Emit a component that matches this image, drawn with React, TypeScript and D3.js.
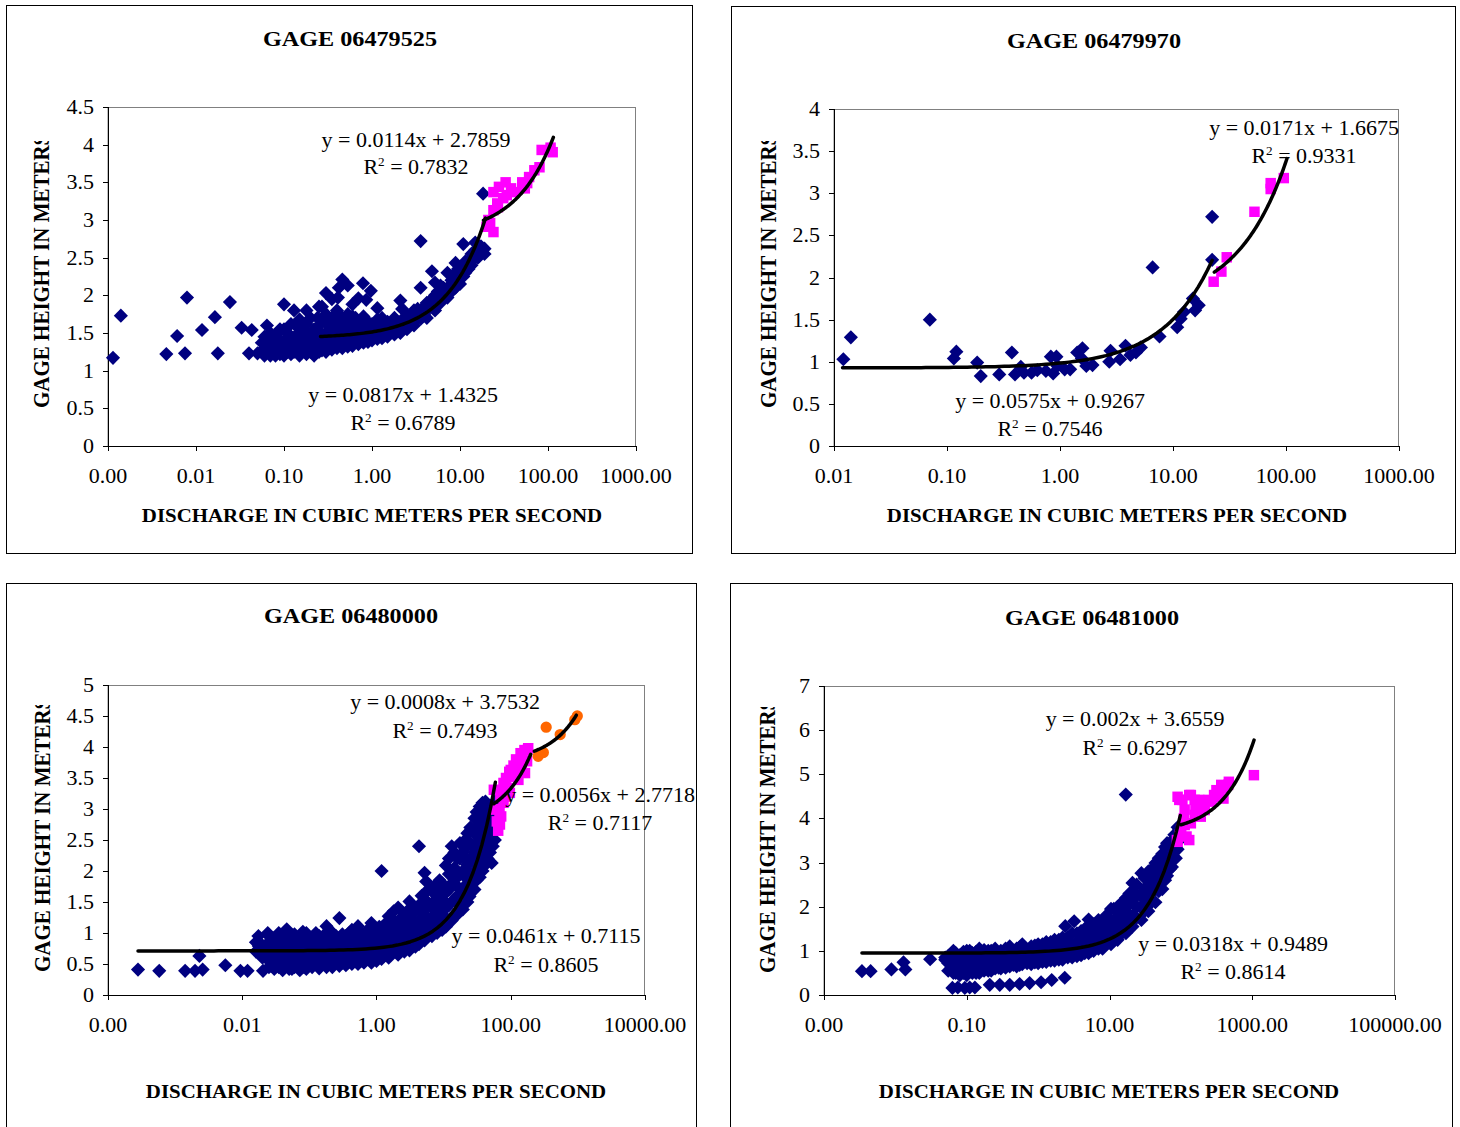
import React from "react";
import * as d3 from "d3";

type Pt = [number, number];
type Trend = { a: number; b: number; r2: number; from: number; to: number };

const titles = ["GAGE 06479525", "GAGE 06479970", "GAGE 06480000", "GAGE 06481000"];
const xAxisTitle = "DISCHARGE IN CUBIC METERS PER SECOND";
const yAxisTitle = "GAGE HEIGHT IN METERS";

const xTicks1 = [0.001, 0.01, 0.1, 1, 10, 100, 1000];
const xTicks2 = [0.01, 0.1, 1, 10, 100, 1000];
const xTicks3 = [0.0001, 0.01, 1, 100, 10000];
const xTicks4 = [0.001, 0.1, 10, 1000, 100000];
const yTicks1 = [0, 0.5, 1, 1.5, 2, 2.5, 3, 3.5, 4, 4.5];
const yTicks2 = [0, 0.5, 1, 1.5, 2, 2.5, 3, 3.5, 4];
const yTicks3 = [0, 0.5, 1, 1.5, 2, 2.5, 3, 3.5, 4, 4.5, 5];
const yTicks4 = [0, 1, 2, 3, 4, 5, 6, 7];

// ---------- Panel 1 (GAGE 06479525)
const blue1: Pt[] = [
  [0.00114, 1.17], [0.0014, 1.73], [0.0046, 1.22], [0.0061, 1.46], [0.0075, 1.23], [0.0079, 1.97],
  [0.0117, 1.54], [0.0164, 1.71], [0.0177, 1.23], [0.0243, 1.91], [0.033, 1.57], [0.04, 1.23],
  [0.043, 1.54], [0.05, 1.23], [0.056, 1.37], [0.064, 1.6],
  [0.06, 1.2], [0.06, 1.3], [0.06, 1.45],
  [0.07, 1.2], [0.07, 1.25], [0.07, 1.35], [0.07, 1.5],
  [0.08, 1.2], [0.08, 1.3], [0.08, 1.45],
  [0.09, 1.22], [0.09, 1.35], [0.09, 1.4], [0.09, 1.55],
  [0.1, 1.2], [0.1, 1.27], [0.1, 1.4], [0.1, 1.88], [0.1, 1.55],
  [0.12, 1.22], [0.12, 1.3], [0.12, 1.45], [0.12, 1.62],
  [0.13, 1.8], [0.13, 1.25], [0.13, 1.38],
  [0.15, 1.2], [0.15, 1.3], [0.15, 1.42], [0.15, 1.55], [0.15, 1.68],
  [0.18, 1.8], [0.18, 1.22], [0.18, 1.35], [0.18, 1.5], [0.18, 1.62],
  [0.2, 1.25], [0.2, 1.3], [0.2, 1.45], [0.2, 1.7],
  [0.22, 1.2], [0.22, 1.38], [0.22, 1.55],
  [0.25, 1.25], [0.25, 1.32], [0.25, 1.48], [0.25, 1.6], [0.25, 1.85],
  [0.27, 1.85], [0.27, 1.27], [0.27, 1.4],
  [0.3, 2.03], [0.3, 1.25], [0.3, 1.35], [0.3, 1.5], [0.3, 1.65], [0.3, 1.75],
  [0.35, 1.28], [0.35, 1.4], [0.35, 1.55], [0.35, 1.7], [0.35, 1.95],
  [0.4, 1.3], [0.4, 1.42], [0.4, 1.6], [0.4, 1.8], [0.41, 1.97], [0.42, 2.1],
  [0.46, 2.21], [0.46, 1.3], [0.46, 1.45], [0.46, 1.55], [0.46, 1.7],
  [0.53, 1.32], [0.53, 1.48], [0.53, 1.62], [0.53, 2.13], [0.53, 1.75],
  [0.6, 1.33], [0.6, 1.45], [0.6, 1.6], [0.6, 1.72], [0.6, 1.88],
  [0.7, 1.35], [0.7, 1.5], [0.7, 1.65], [0.7, 1.96],
  [0.79, 2.16], [0.8, 1.37], [0.8, 1.5], [0.8, 1.6], [0.8, 1.72],
  [0.86, 1.94], [0.9, 1.38], [0.9, 1.52], [0.9, 1.65],
  [0.97, 2.06], [1.0, 1.4], [1.0, 1.5], [1.0, 1.62],
  [1.15, 1.83], [1.15, 1.42], [1.15, 1.55], [1.15, 1.68],
  [1.3, 1.43], [1.3, 1.5], [1.3, 1.6], [1.3, 1.7],
  [1.5, 1.45], [1.5, 1.55], [1.5, 1.65],
  [1.8, 1.48], [1.8, 1.58], [1.8, 1.7],
  [2.1, 1.93], [2.1, 1.5], [2.1, 1.62], [2.2, 1.82],
  [2.5, 1.55], [2.5, 1.65], [2.5, 1.72],
  [3.0, 1.6], [3.0, 1.7], [3.0, 1.8],
  [3.57, 2.72], [3.57, 2.1], [3.6, 1.69], [3.6, 1.75],
  [4.2, 1.8], [4.2, 1.7], [4.2, 1.9],
  [4.8, 2.32], [4.8, 1.85], [4.8, 1.95],
  [5.2, 2.17], [5.2, 1.8], [5.2, 2.0],
  [6.0, 2.13], [6.0, 1.9], [6.0, 2.0],
  [7.2, 2.3], [7.2, 1.97], [7.2, 2.1],
  [8.9, 2.43], [8.9, 2.1], [8.9, 2.2], [8.9, 2.3],
  [10, 2.15], [10, 2.3],
  [10.9, 2.68], [10.9, 2.25], [10.9, 2.4],
  [12.5, 2.35], [12.5, 2.45],
  [14.9, 2.7], [14.9, 2.5], [14.9, 2.6],
  [17.3, 2.56], [17.3, 2.65], [18.3, 3.35], [19, 2.62], [19, 2.55],
  [0.065, 1.25], [0.065, 1.4], [0.085, 1.25], [0.085, 1.38], [0.085, 1.5],
  [0.11, 1.25], [0.11, 1.35], [0.11, 1.5], [0.14, 1.25], [0.14, 1.35], [0.14, 1.48], [0.14, 1.6],
  [0.165, 1.27], [0.165, 1.4], [0.165, 1.55], [0.24, 1.3], [0.24, 1.4], [0.24, 1.55], [0.24, 1.7],
  [0.32, 1.3], [0.32, 1.45], [0.32, 1.6], [0.38, 1.35], [0.38, 1.5], [0.38, 1.65],
  [0.5, 1.38], [0.5, 1.55], [0.5, 1.68], [0.65, 1.4], [0.65, 1.55], [0.65, 1.7], [0.75, 1.42], [0.75, 1.57],
  [1.2, 1.48], [1.2, 1.6], [1.6, 1.52], [1.6, 1.62], [2.3, 1.6], [2.3, 1.7], [2.8, 1.65], [2.8, 1.75],
  [3.3, 1.7], [3.3, 1.82], [3.9, 1.75], [3.9, 1.85], [5.6, 1.92], [5.6, 2.05], [6.5, 2.0], [6.5, 2.1],
  [8, 2.05], [8, 2.2], [9.5, 2.2], [9.5, 2.35], [11.5, 2.3], [11.5, 2.45], [13.5, 2.4], [13.5, 2.55],
  [16, 2.5], [16, 2.6],
];
const pink1: Pt[] = [
  [84.7, 3.93], [113, 3.9], [107, 3.96], [70, 3.66], [80, 3.7], [51, 3.5], [58, 3.49], [33, 3.5],
  [27.7, 3.44], [38, 3.42], [24, 3.37], [31, 3.29], [26.5, 3.22], [34, 3.33], [24, 3.13], [27, 3.17],
  [21, 3.0], [20, 2.91], [24, 2.84], [22, 2.96], [42, 3.37], [54.5, 3.42], [61, 3.57],
];
const trends1: Trend[] = [
  { a: 0.0817, b: 1.4325, r2: 0.6789, from: 0.26, to: 19.5 },
  { a: 0.0114, b: 2.7859, r2: 0.7832, from: 18.5, to: 115 },
];

// ---------- Panel 2 (GAGE 06479970)
const blue2: Pt[] = [
  [0.0121, 1.03], [0.0141, 1.29], [0.0705, 1.5], [0.115, 1.04], [0.121, 1.12], [0.185, 0.99],
  [0.199, 0.83], [0.29, 0.85], [0.375, 1.11], [0.4, 0.85], [0.45, 0.94], [0.48, 0.87], [0.56, 0.87],
  [0.63, 0.9], [0.75, 0.89], [0.83, 1.06], [0.87, 0.86], [0.93, 1.06], [0.95, 0.95], [1.1, 0.91],
  [1.23, 0.91], [1.42, 1.11], [1.58, 1.16], [1.56, 1.04], [1.71, 0.95], [1.94, 0.96], [2.73, 1.0],
  [2.8, 1.13], [3.4, 1.03], [3.8, 1.19], [4.2, 1.08], [4.7, 1.11], [5.2, 1.17], [6.6, 2.12],
  [7.6, 1.3], [10.9, 1.41], [11.7, 1.51], [12.5, 1.59], [15.0, 1.75], [15.7, 1.61], [16.9, 1.67],
  [22.2, 2.72], [22.2, 2.21],
];
const pink2: Pt[] = [
  [22.9, 1.95], [26.8, 2.07], [29.9, 2.24], [52.6, 2.78], [73.2, 3.12], [73.2, 3.05], [95.6, 3.18],
];
const trends2: Trend[] = [
  { a: 0.0575, b: 0.9267, r2: 0.7546, from: 0.0119, to: 22.2 },
  { a: 0.0171, b: 1.6675, r2: 0.9331, from: 23.2, to: 102 },
];

// ---------- Panel 3 (GAGE 06480000)
const blue3: Pt[] = [
  [0.00028, 0.41], [0.00058, 0.39], [0.00141, 0.39], [0.00198, 0.39], [0.0023, 0.63], [0.00257, 0.41],
  [0.0056, 0.48], [0.0094, 0.39], [0.012, 0.39], [0.0204, 0.39], [0.0174, 0.95], [0.0176, 0.79],
  [0.024, 1.0], [0.046, 1.06], [0.072, 0.95], [0.18, 1.11], [0.28, 1.24], [0.53, 1.11], [0.84, 1.16],
  [1.19, 2.0], [1.52, 1.27], [2.1, 1.41], [3.1, 1.51], [4.3, 2.4], [5.2, 1.97], [5.5, 1.83], [6.7, 1.67],
  [10.8, 2.09], [13.2, 2.4], [22.6, 2.61], [28.8, 2.85], [34.5, 3.04], [42, 3.12], [49, 2.8], [52, 2.13],
  [19.3, 1.38], [24.3, 1.59],
  [0.016, 0.85], [0.016, 0.7], [0.02, 0.8], [0.02, 0.6],
  [0.025, 0.45], [0.025, 0.55], [0.025, 0.7], [0.025, 0.85], [0.025, 0.95],
  [0.03, 0.42], [0.03, 0.5], [0.03, 0.65], [0.03, 0.8], [0.03, 0.92],
  [0.04, 0.4], [0.04, 0.55], [0.04, 0.7], [0.04, 0.85], [0.04, 0.95],
  [0.05, 0.42], [0.05, 0.5], [0.05, 0.62], [0.05, 0.75], [0.05, 0.9],
  [0.06, 0.45], [0.06, 0.58], [0.06, 0.7], [0.06, 0.85], [0.06, 0.98],
  [0.072, 0.4], [0.072, 0.5], [0.072, 0.65], [0.072, 0.8],
  [0.09, 0.42], [0.09, 0.55], [0.09, 0.7], [0.09, 0.85], [0.09, 1.0],
  [0.11, 0.45], [0.11, 0.6], [0.11, 0.75], [0.11, 0.9],
  [0.14, 0.43], [0.14, 0.55], [0.14, 0.68], [0.14, 0.82], [0.14, 0.95],
  [0.18, 0.45], [0.18, 0.6], [0.18, 0.75], [0.18, 0.9],
  [0.22, 0.45], [0.22, 0.55], [0.22, 0.7], [0.22, 0.85], [0.22, 1.0],
  [0.28, 0.47], [0.28, 0.6], [0.28, 0.72], [0.28, 0.88],
  [0.35, 0.48], [0.35, 0.62], [0.35, 0.78], [0.35, 0.95],
  [0.43, 0.5], [0.43, 0.63], [0.43, 0.75], [0.43, 0.9], [0.43, 1.05],
  [0.53, 0.5], [0.53, 0.6], [0.53, 0.72], [0.53, 0.88],
  [0.65, 0.52], [0.65, 0.65], [0.65, 0.8], [0.65, 0.95],
  [0.84, 0.52], [0.84, 0.65], [0.84, 0.78], [0.84, 0.95],
  [1.0, 0.55], [1.0, 0.68], [1.0, 0.82], [1.0, 1.0],
  [1.19, 0.58], [1.19, 0.72], [1.19, 0.9], [1.19, 1.05],
  [1.52, 0.6], [1.52, 0.75], [1.52, 0.9], [1.52, 1.1],
  [2.1, 0.65], [2.1, 0.8], [2.1, 0.95], [2.1, 1.15],
  [2.6, 0.7], [2.6, 0.85], [2.6, 1.0], [2.6, 1.2],
  [3.1, 0.72], [3.1, 0.9], [3.1, 1.1], [3.1, 1.3],
  [3.8, 0.78], [3.8, 0.95], [3.8, 1.15], [3.8, 1.35],
  [4.3, 0.82], [4.3, 1.0], [4.3, 1.2], [4.3, 1.45],
  [5.2, 0.88], [5.2, 1.1], [5.2, 1.3], [5.2, 1.55],
  [6.7, 0.95], [6.7, 1.15], [6.7, 1.4],
  [8, 1.0], [8, 1.2], [8, 1.45], [8, 1.7],
  [9.5, 1.05], [9.5, 1.3], [9.5, 1.55], [9.5, 1.8],
  [10.8, 1.1], [10.8, 1.4], [10.8, 1.65],
  [13.2, 1.2], [13.2, 1.5], [13.2, 1.8], [13.2, 2.0],
  [16, 1.3], [16, 1.6], [16, 1.9], [16, 2.2],
  [19.3, 1.7], [19.3, 2.0], [19.3, 2.3],
  [22.6, 1.5], [22.6, 1.8], [22.6, 2.1], [22.6, 2.4],
  [28.8, 1.7], [28.8, 2.0], [28.8, 2.3], [28.8, 2.6],
  [34.5, 1.9], [34.5, 2.2], [34.5, 2.5], [34.5, 2.8],
  [42, 2.1], [42, 2.4], [42, 2.7], [42, 2.95],
  [49, 2.3], [49, 2.55], [49, 3.0], [52, 2.6],
  [58, 2.5], [58, 2.9], [58, 3.1],
  [0.027, 0.47], [0.027, 0.62], [0.027, 0.77], [0.027, 0.9],
  [0.035, 0.45], [0.035, 0.6], [0.035, 0.75], [0.035, 0.88], [0.035, 1.0],
  [0.045, 0.47], [0.045, 0.6], [0.045, 0.78], [0.045, 0.92],
  [0.055, 0.42], [0.055, 0.55], [0.055, 0.68], [0.055, 0.82], [0.055, 0.95],
  [0.065, 0.47], [0.065, 0.62], [0.065, 0.76], [0.065, 0.9],
  [0.08, 0.45], [0.08, 0.58], [0.08, 0.72], [0.08, 0.88], [0.08, 1.02],
  [0.1, 0.48], [0.1, 0.62], [0.1, 0.78], [0.1, 0.92],
  [0.125, 0.5], [0.125, 0.62], [0.125, 0.75], [0.125, 0.88], [0.125, 1.0],
  [0.16, 0.5], [0.16, 0.65], [0.16, 0.8], [0.16, 0.95],
  [0.2, 0.5], [0.2, 0.62], [0.2, 0.78], [0.2, 0.92], [0.2, 1.05],
  [0.25, 0.52], [0.25, 0.65], [0.25, 0.8], [0.25, 0.95],
  [0.31, 0.52], [0.31, 0.67], [0.31, 0.82], [0.31, 0.98],
  [0.39, 0.55], [0.39, 0.7], [0.39, 0.85], [0.39, 1.0],
  [0.48, 0.55], [0.48, 0.68], [0.48, 0.82], [0.48, 0.98],
  [0.58, 0.55], [0.58, 0.7], [0.58, 0.85], [0.58, 1.0],
  [0.74, 0.58], [0.74, 0.72], [0.74, 0.88], [0.74, 1.05],
  [0.92, 0.6], [0.92, 0.74], [0.92, 0.9], [0.92, 1.08],
  [1.1, 0.62], [1.1, 0.76], [1.1, 0.92], [1.1, 1.1],
  [1.35, 0.65], [1.35, 0.8], [1.35, 0.95], [1.35, 1.15],
  [1.8, 0.7], [1.8, 0.85], [1.8, 1.02], [1.8, 1.2], [1.8, 1.35],
  [2.35, 0.72], [2.35, 0.88], [2.35, 1.05], [2.35, 1.25],
  [2.85, 0.78], [2.85, 0.95], [2.85, 1.15], [2.85, 1.35],
  [3.4, 0.82], [3.4, 1.0], [3.4, 1.2], [3.4, 1.4],
  [4.7, 0.92], [4.7, 1.1], [4.7, 1.35], [4.7, 1.6],
  [5.9, 0.98], [5.9, 1.2], [5.9, 1.45], [5.9, 1.7],
  [7.3, 1.05], [7.3, 1.28], [7.3, 1.52], [7.3, 1.75],
  [8.7, 1.1], [8.7, 1.35], [8.7, 1.6], [8.7, 1.85],
  [12, 1.2], [12, 1.45], [12, 1.7], [12, 1.95], [12, 2.2],
  [14.5, 1.3], [14.5, 1.55], [14.5, 1.8], [14.5, 2.05], [14.5, 2.3],
  [17.5, 1.45], [17.5, 1.7], [17.5, 1.95], [17.5, 2.2], [17.5, 2.45],
  [21, 1.6], [21, 1.9], [21, 2.2], [21, 2.5],
  [25, 1.7], [25, 1.95], [25, 2.2], [25, 2.45], [25, 2.7],
  [31, 1.85], [31, 2.1], [31, 2.4], [31, 2.7], [31, 2.95],
  [38, 2.0], [38, 2.3], [38, 2.6], [38, 2.85], [38, 3.1],
  [45, 2.2], [45, 2.5], [45, 2.75], [45, 3.0],
  [54, 2.4], [54, 2.7], [54, 2.95], [62, 2.7], [62, 2.95], [62, 3.15],
];
const pink3: Pt[] = [
  [69, 2.75], [60, 2.99], [78, 3.1], [97, 3.26], [78, 3.42], [104, 3.52], [100, 3.63], [130, 3.74],
  [150, 3.85], [175, 3.95], [163, 3.58], [130, 3.47], [90, 3.34], [72, 2.88], [175, 3.77], [56, 3.31],
  [62, 2.8], [66, 3.0], [70, 3.2], [75, 3.3], [85, 3.5], [95, 3.6], [110, 3.7], [120, 3.8],
  [140, 3.9], [160, 3.95], [65, 2.65], [68, 2.95], [82, 3.2], [115, 3.55], [145, 3.68], [182, 3.98],
];
const orange3: Pt[] = [
  [256, 3.85], [306, 3.91], [337, 4.32], [545, 4.2], [900, 4.44], [980, 4.5],
];
const trends3: Trend[] = [
  { a: 0.0461, b: 0.7115, r2: 0.8605, from: 0.00028, to: 59 },
  { a: 0.0056, b: 2.7718, r2: 0.7117, from: 56, to: 198 },
  { a: 0.0008, b: 3.7532, r2: 0.7493, from: 224, to: 950 },
];

// ---------- Panel 4 (GAGE 06481000)
const blue4: Pt[] = [
  [0.0034, 0.54], [0.0045, 0.54], [0.0088, 0.58], [0.013, 0.74], [0.0138, 0.58], [0.0307, 0.81],
  [0.063, 0.16], [0.075, 0.17], [0.094, 0.16], [0.11, 0.17], [0.13, 0.17], [0.21, 0.23], [0.29, 0.23],
  [0.4, 0.23], [0.55, 0.25], [0.76, 0.27], [1.1, 0.29], [1.55, 0.34], [2.36, 0.39],
  [16.9, 4.54],
  [0.05, 0.85], [0.05, 0.8], [0.06, 0.6], [0.06, 0.75], [0.06, 0.9],
  [0.07, 0.5], [0.07, 0.65], [0.07, 0.8], [0.07, 0.95],
  [0.08, 0.45], [0.08, 0.6], [0.08, 0.75], [0.08, 0.9],
  [0.1, 0.45], [0.1, 0.55], [0.1, 0.7], [0.1, 0.85], [0.1, 1.0],
  [0.12, 0.5], [0.12, 0.65], [0.12, 0.8], [0.12, 0.95],
  [0.15, 0.5], [0.15, 0.6], [0.15, 0.75], [0.15, 0.9], [0.15, 1.05],
  [0.2, 0.55], [0.2, 0.7], [0.2, 0.85], [0.2, 1.0],
  [0.25, 0.6], [0.25, 0.75], [0.25, 0.9], [0.25, 1.05],
  [0.3, 0.6], [0.3, 0.7], [0.3, 0.85], [0.3, 1.0],
  [0.4, 0.65], [0.4, 0.8], [0.4, 0.95], [0.4, 1.1],
  [0.5, 0.65], [0.5, 0.75], [0.5, 0.9], [0.5, 1.05],
  [0.6, 0.7], [0.6, 0.85], [0.6, 1.0], [0.6, 1.15],
  [0.8, 0.7], [0.8, 0.8], [0.8, 0.95], [0.8, 1.1],
  [1.0, 0.72], [1.0, 0.85], [1.0, 1.0], [1.0, 1.15],
  [1.3, 0.75], [1.3, 0.9], [1.3, 1.05], [1.3, 1.2],
  [1.7, 0.78], [1.7, 0.9], [1.7, 1.05], [1.7, 1.25],
  [2.2, 0.8], [2.2, 0.95], [2.2, 1.1], [2.2, 1.3], [2.4, 1.56],
  [3, 0.85], [3, 1.0], [3, 1.15], [3, 1.4], [3.2, 1.67],
  [4, 0.9], [4, 1.05], [4, 1.25], [4, 1.45],
  [5.1, 1.71], [5.1, 0.95], [5.1, 1.15], [5.1, 1.35],
  [6, 1.0], [6, 1.2], [6, 1.4], [6, 1.6],
  [8, 1.05], [8, 1.25], [8, 1.5], [8, 1.7],
  [10.5, 1.95], [10.5, 1.15], [10.5, 1.35], [10.5, 1.6],
  [13, 1.25], [13, 1.5], [13, 1.75], [13, 2.0],
  [17, 1.4], [17, 1.65], [17, 1.9], [17, 2.2],
  [21, 2.54], [21, 1.55], [21, 1.8], [21, 2.1], [21, 2.35],
  [28, 2.76], [28, 1.7], [28, 2.0], [28, 2.3],
  [35, 1.9], [35, 2.2], [35, 2.5], [35, 2.8],
  [44, 2.99], [44, 2.1], [44, 2.4], [44, 2.7],
  [55, 2.4], [55, 2.7], [55, 3.0], [55, 3.2],
  [64, 3.44], [64, 2.7], [64, 3.0],
  [75, 2.9], [75, 3.2], [75, 3.5], [81, 3.63], [81, 3.1],
  [90, 3.3], [90, 3.6], [90, 3.8],
  [0.055, 0.55], [0.055, 0.72], [0.055, 0.88], [0.065, 0.5], [0.065, 0.68], [0.065, 0.85], [0.065, 1.0],
  [0.09, 0.5], [0.09, 0.65], [0.09, 0.82], [0.09, 0.98], [0.11, 0.52], [0.11, 0.68], [0.11, 0.85], [0.11, 1.0],
  [0.135, 0.5], [0.135, 0.66], [0.135, 0.82], [0.135, 0.98], [0.175, 0.55], [0.175, 0.72], [0.175, 0.88], [0.175, 1.02],
  [0.22, 0.55], [0.22, 0.7], [0.22, 0.85], [0.22, 1.0], [0.28, 0.62], [0.28, 0.78], [0.28, 0.95],
  [0.35, 0.62], [0.35, 0.78], [0.35, 0.92], [0.35, 1.05], [0.45, 0.68], [0.45, 0.82], [0.45, 0.98],
  [0.55, 0.68], [0.55, 0.82], [0.55, 0.96], [0.55, 1.08], [0.7, 0.72], [0.7, 0.88], [0.7, 1.02],
  [0.9, 0.74], [0.9, 0.88], [0.9, 1.02], [0.9, 1.12], [1.15, 0.75], [1.15, 0.9], [1.15, 1.05], [1.15, 1.15],
  [1.5, 0.78], [1.5, 0.92], [1.5, 1.08], [1.5, 1.2], [1.95, 0.8], [1.95, 0.95], [1.95, 1.1], [1.95, 1.25],
  [2.6, 0.85], [2.6, 1.0], [2.6, 1.15], [2.6, 1.3], [3.5, 0.88], [3.5, 1.05], [3.5, 1.2], [3.5, 1.4],
  [4.5, 0.95], [4.5, 1.1], [4.5, 1.3], [4.5, 1.5], [5.5, 1.0], [5.5, 1.2], [5.5, 1.4], [5.5, 1.6],
  [7, 1.05], [7, 1.25], [7, 1.45], [7, 1.7], [9, 1.15], [9, 1.35], [9, 1.55], [9, 1.8],
  [11.5, 1.25], [11.5, 1.45], [11.5, 1.7], [11.5, 1.95], [15, 1.4], [15, 1.6], [15, 1.85], [15, 2.1],
  [19, 1.55], [19, 1.8], [19, 2.05], [19, 2.3], [24, 1.75], [24, 2.0], [24, 2.25], [24, 2.5],
  [31, 1.9], [31, 2.15], [31, 2.4], [31, 2.65], [39, 2.1], [39, 2.35], [39, 2.6], [39, 2.85],
  [49, 2.35], [49, 2.6], [49, 2.85], [49, 3.1], [60, 2.6], [60, 2.85], [60, 3.1], [60, 3.35],
  [70, 2.85], [70, 3.1], [70, 3.35], [85, 3.1], [85, 3.35], [85, 3.6], [95, 3.5], [95, 3.75],
];
const pink4: Pt[] = [
  [95, 4.42], [138, 4.53], [110, 4.0], [120, 3.59], [88, 3.51], [160, 4.27], [190, 4.04], [215, 4.19],
  [270, 4.38], [340, 4.49], [395, 4.68], [460, 4.76], [315, 4.64], [395, 4.45], [1055, 4.98],
  [138, 3.89], [101, 3.74],
  [131, 4.53], [90, 4.49], [180, 4.42], [368, 4.76], [470, 4.83], [292, 4.53], [214, 4.24], [156, 4.08],
  [113, 3.85], [97, 3.63], [131, 3.51], [90, 3.47], [245, 4.42], [156, 4.42], [113, 4.2], [105, 4.42],
];
const trends4: Trend[] = [
  { a: 0.0318, b: 0.9489, r2: 0.8614, from: 0.0034, to: 98 },
  { a: 0.002, b: 3.6559, r2: 0.6297, from: 100, to: 1060 },
];

// ---------- layout (positions only)
type Layout = {
  box: number[]; plot: number[]; title: number[]; xTitle: number[]; tickY: number;
  yLab: number[]; eq: number[][];
};
const layouts: Layout[] = [
  { box: [6, 5, 692, 553], plot: [108, 107, 636, 446], title: [350, 46], xTitle: [372, 522], tickY: 483,
    yLab: [49, 408, 141], eq: [[403, 401.5, 429.5], [416, 146.5, 173.5]] },
  { box: [731, 6, 1455, 553], plot: [834, 109, 1399, 446], title: [1094, 48], xTitle: [1117, 522], tickY: 483,
    yLab: [776, 408, 141], eq: [[1050, 407.5, 435.5], [1304, 134.5, 162.5]] },
  { box: [6, 583, 696, 1140], plot: [108, 685, 645, 995], title: [351, 623], xTitle: [376, 1098], tickY: 1032,
    yLab: [50, 972, 705], eq: [[546, 942.5, 971.5], [600, 801.5, 829.5], [445, 708.5, 737.5]] },
  { box: [730, 583, 1452, 1140], plot: [824, 686, 1395, 995], title: [1092, 625], xTitle: [1109, 1098], tickY: 1032,
    yLab: [775, 973, 707], eq: [[1233, 950.5, 978.5], [1135, 725.5, 754.5]] },
];

const panelData = [
  { xTicks: xTicks1, yTicks: yTicks1, series: [blue1, pink1], trends: trends1 },
  { xTicks: xTicks2, yTicks: yTicks2, series: [blue2, pink2], trends: trends2 },
  { xTicks: xTicks3, yTicks: yTicks3, series: [blue3, pink3, orange3], trends: trends3 },
  { xTicks: xTicks4, yTicks: yTicks4, series: [blue4, pink4], trends: trends4 },
];

const SERIF = "'Liberation Serif', 'Times New Roman', serif";
const markerColors = ["#000080", "#FF00FF", "#FF6600"];
const diamondPath = d3.symbol(d3.symbolSquare, 100)() as string;
const squarePath = d3.symbol(d3.symbolSquare, 110)() as string;
const circlePath = d3.symbol(d3.symbolCircle, 100)() as string;
const fmtX = d3.format(".2f");
const fmtY = (v: number) => String(v);

function Panel({ L, D, idx }: { L: Layout; D: typeof panelData[number]; idx: number }) {
  const [px0, py0, px1, py1] = L.plot;
  const x = d3.scaleLog().domain([D.xTicks[0], D.xTicks[D.xTicks.length - 1]]).range([px0, px1]);
  const y = d3.scaleLinear().domain([0, D.yTicks[D.yTicks.length - 1]]).range([py1, py0]);
  const clipId = `ylab-clip-${idx}`;
  return (
    <g>
      <rect x={L.box[0] + 0.5} y={L.box[1] + 0.5} width={L.box[2] - L.box[0]} height={L.box[3] - L.box[1]}
        fill="#fff" stroke="#000" strokeWidth={1} />
      <text transform={`translate(${L.title[0]},${L.title[1]}) scale(1.1,1)`} textAnchor="middle"
        fontFamily={SERIF} fontWeight="bold" fontSize={22}>{titles[idx]}</text>
      <rect x={px0} y={py0 + 0.5} width={px1 - px0 - 0.5} height={py1 - py0} fill="none" stroke="#808080" strokeWidth={1} />
      <line x1={px0 + 0.5} x2={px0 + 0.5} y1={py0} y2={py1} stroke="#000" />
      <line x1={px0} x2={px1} y1={py1 + 0.5} y2={py1 + 0.5} stroke="#000" />
      {D.yTicks.map((t) => (
        <g key={"y" + t}>
          <line x1={px0 - 5} x2={px0} y1={Math.round(y(t)) + 0.5} y2={Math.round(y(t)) + 0.5} stroke="#000" />
          <text transform={`translate(${px0 - 14},${y(t) + 7}) scale(1.1,1)`} textAnchor="end"
            fontFamily={SERIF} fontSize={20}>{fmtY(t)}</text>
        </g>
      ))}
      {D.xTicks.map((t) => (
        <g key={"x" + t}>
          <line x1={Math.round(x(t)) + 0.5} x2={Math.round(x(t)) + 0.5} y1={py1} y2={py1 + 5} stroke="#000" />
          <text transform={`translate(${x(t)},${L.tickY}) scale(1.1,1)`} textAnchor="middle"
            fontFamily={SERIF} fontSize={20}>{fmtX(t)}</text>
        </g>
      ))}
      <text transform={`translate(${L.xTitle[0]},${L.xTitle[1]}) scale(1.1,1)`} textAnchor="middle"
        fontFamily={SERIF} fontWeight="bold" fontSize={19}>{xAxisTitle}</text>
      <clipPath id={clipId}>
        <rect x={L.yLab[0] - 30} y={L.yLab[2]} width={40} height={L.yLab[1] - L.yLab[2] + 10} />
      </clipPath>
      <g clipPath={`url(#${clipId})`}>
        <text transform={`translate(${L.yLab[0]},${L.yLab[1]}) rotate(-90) scale(1,1.1)`} textAnchor="start"
          fontFamily={SERIF} fontWeight="bold" fontSize={21}>{yAxisTitle}</text>
      </g>
      {D.series.map((s, si) => (
        <g key={"s" + si} fill={markerColors[si]}>
          {s.map((p, i) => (
            <path key={i}
              d={si === 0 ? diamondPath : si === 1 ? squarePath : circlePath}
              transform={`translate(${x(p[0])},${y(p[1])})${si === 0 ? " rotate(45)" : ""}`} />
          ))}
        </g>
      ))}
      {D.trends.map((tr, ti) => {
        const l0 = Math.log10(tr.from), l1 = Math.log10(tr.to);
        const xs = d3.range(0, 81).map((k) => Math.pow(10, l0 + (k / 80) * (l1 - l0)));
        const path = d3.line<number>().x((v) => x(v)).y((v) => y(tr.a * v + tr.b))(xs) as string;
        return <path key={"t" + ti} d={path} fill="none" stroke="#000" strokeWidth={3.5} strokeLinejoin="round" strokeLinecap="round" />;
      })}
      {D.trends.map((tr, ti) => {
        const e = L.eq[ti];
        return (
          <g key={"e" + ti} fontFamily={SERIF} fontSize={20}>
            <text transform={`translate(${e[0]},${e[1]}) scale(1.1,1)`} textAnchor="middle">{`y = ${tr.a}x + ${tr.b}`}</text>
            <text transform={`translate(${e[0]},${e[2]}) scale(1.1,1)`} textAnchor="middle">
              R<tspan dy={-8} fontSize={12}>2</tspan><tspan dy={8}>{` = ${tr.r2}`}</tspan>
            </text>
          </g>
        );
      })}
    </g>
  );
}

export default function App() {
  return (
    <svg width={1460} height={1127} viewBox="0 0 1460 1127" style={{ display: "block", position: "absolute", left: 0, top: 0, background: "#fff" }}>
      <rect x={0} y={0} width={1460} height={1127} fill="#fff" />
      {layouts.map((L, i) => (
        <Panel key={i} L={L} D={panelData[i]} idx={i} />
      ))}
    </svg>
  );
}
